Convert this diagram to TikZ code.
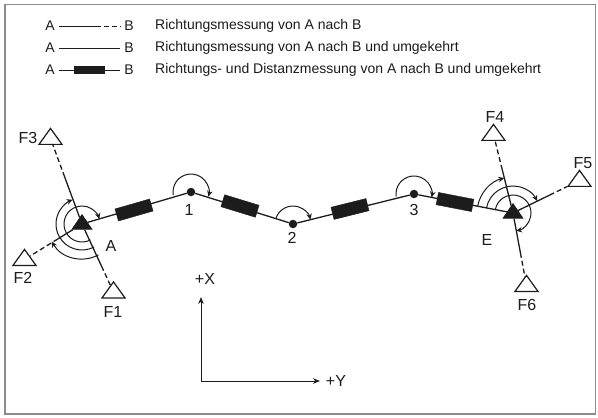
\documentclass[tikz,border=0pt]{standalone}
\usepackage{fontspec}
\setmainfont{Liberation Sans}
\usetikzlibrary{arrows.meta,calc,shapes.geometric}
\definecolor{ink}{HTML}{1C1C1C}
\tikzset{
  x=1pt,y=-1pt,
  every node/.style={text=ink,font=\fontsize{14}{16}\selectfont,inner sep=0pt},
  big/.style={font=\fontsize{16}{18}\selectfont},
  tri/.style={isosceles triangle,isosceles triangle apex angle=71,isosceles triangle stretches,shape border rotate=90,minimum width=23pt,minimum height=16pt,inner sep=0pt,draw=ink,line width=1.2pt,fill=white},
  tribk/.style={tri,fill=ink,minimum width=19pt,minimum height=14pt},
  stn/.style={circle,fill=ink,minimum size=8.5pt},
  bar/.style={rectangle,fill=ink,draw=ink,minimum width=36pt,minimum height=12.5pt},
  sol/.style={draw=ink,line width=1.3pt},
  dsh/.style={draw=ink,line width=1.3pt,dash pattern=on 5pt off 3pt},
  turn/.style={draw=ink,line width=1pt,-{Stealth[length=6pt,width=5.5pt]}},
  axis/.style={draw=ink,line width=1pt,-{Stealth[length=7pt,width=5.5pt]}}
}
\begin{document}
\begin{tikzpicture}
\useasboundingbox (0,0) rectangle (598,418);
\fill[white] (0,0) rectangle (598,418);
\draw[draw=black!45,line width=1.3pt] (5,4.5) rectangle (595.5,414);
% legend
\foreach \n/\y/\t in {r/26/Richtungsmessung von A nach B,s/48/Richtungsmessung von A nach B und umgekehrt,u/70/Richtungs- und Distanzmessung von A nach B und umgekehrt}{
  \node (la\n) at (50,\y) {A};
  \node (lb\n) at (129,\y) {B};
  \node[anchor=west] (lt\n) at (155,\y) {\t};
}
\coordinate (lm) at (96,26);
\draw[sol,line width=1pt] ($(lar.east)+(4,0)$) -- (lm);
\draw[dsh,line width=1pt] (lm) -- ($(lbr.west)+(-4,0)$);
\draw[sol,line width=1pt] ($(las.east)+(4,0)$) -- ($(lbs.west)+(-4,0)$);
\draw[sol,line width=1pt] ($(lau.east)+(4,0)$) -- ($(lbu.west)+(-4,0)$);
\node[rectangle,fill=ink,minimum width=31pt,minimum height=8pt] (lbar) at (89,70) {};
% stations
\node[tribk] (A) at (82,224) {};
\node[tribk] (E) at (513,213) {};
\node[stn] (n1) at (191,192) {};
\node[stn] (n2) at (293,224) {};
\node[stn] (n3) at (414,194) {};
\node[tri] (F1) at (113.5,292) {};
\node[tri] (F2) at (24.5,259.5) {};
\node[tri] (F3) at (50.5,138.5) {};
\node[tri] (F4) at (493.5,134.5) {};
\node[tri] (F5) at (579.5,180.5) {};
\node[tri] (F6) at (526.5,285.5) {};
% traverse
\draw[sol] (A) -- (n1);
\draw[sol] (n1) -- (n2);
\draw[sol] (n2) -- (n3);
\draw[sol] (n3) -- (E);
\node[bar,rotate=16] (b1) at (134,210) {};
\node[bar,rotate=-17] (b2) at (240,206) {};
\node[bar,rotate=14] (b3) at (350,209) {};
\node[bar,rotate=-11] (b4) at (455,202) {};
% sightings
\foreach \t/\f/\p in {A/F1/.62,A/F2/.42,A/F3/.55,E/F4/.55,E/F5/.55,E/F6/.55}{
  \coordinate (m\f) at ($(\t)!\p!(\f)$);
  \draw[sol] (\t) -- (m\f);
  \draw[dsh] (m\f) -- (\f);
}
% angles at A
\draw[turn] ([shift={(-62:35pt)}]A.center) arc[start angle=-62,end angle=-150,radius=35pt];
\draw[turn] ([shift={(-62:26pt)}]A.center) arc[start angle=-62,end angle=-249,radius=26pt];
\draw[turn] ([shift={(-62:18pt)}]A.center) arc[start angle=-62,end angle=-344,radius=18pt];
% angles at points
\draw[turn] ([shift={(190:18pt)}]n1.center) arc[start angle=190,end angle=-15,radius=18pt];
\draw[turn] ([shift={(163:18pt)}]n2.center) arc[start angle=163,end angle=14,radius=18pt];
\draw[turn] ([shift={(188:18pt)}]n3.center) arc[start angle=188,end angle=-11,radius=18pt];
% angles at E
\draw[turn] ([shift={(169:36pt)}]E.center) arc[start angle=169,end angle=104,radius=36pt];
\draw[turn] ([shift={(169:27pt)}]E.center) arc[start angle=169,end angle=26,radius=27pt];
\draw[turn] ([shift={(169:18pt)}]E.center) arc[start angle=169,end angle=-80,radius=18pt];
% labels
\node[big] (lF1) at (113,312) {F1};
\node[big] (lF2) at (23,278) {F2};
\node[big] (lF3) at (28,138) {F3};
\node[big] (lF4) at (495,117) {F4};
\node[big] (lF5) at (583,163) {F5};
\node[big] (lF6) at (527,305) {F6};
\node[big] (lA) at (111,246) {A};
\node[big] (lE) at (487,240) {E};
\node[big] (l1) at (189,210) {1};
\node[big] (l2) at (292,238) {2};
\node[big] (l3) at (414,210) {3};
% axes
\coordinate (O) at (201,381);
\coordinate (xe) at (201,297);
\coordinate (ye) at (320,381);
\draw[axis] (O) -- (xe);
\draw[axis] (O) -- (ye);
\node[big] (lX) at (205,279) {+X};
\node[big] (lY) at (336,381) {+Y};
\end{tikzpicture}
\end{document}
